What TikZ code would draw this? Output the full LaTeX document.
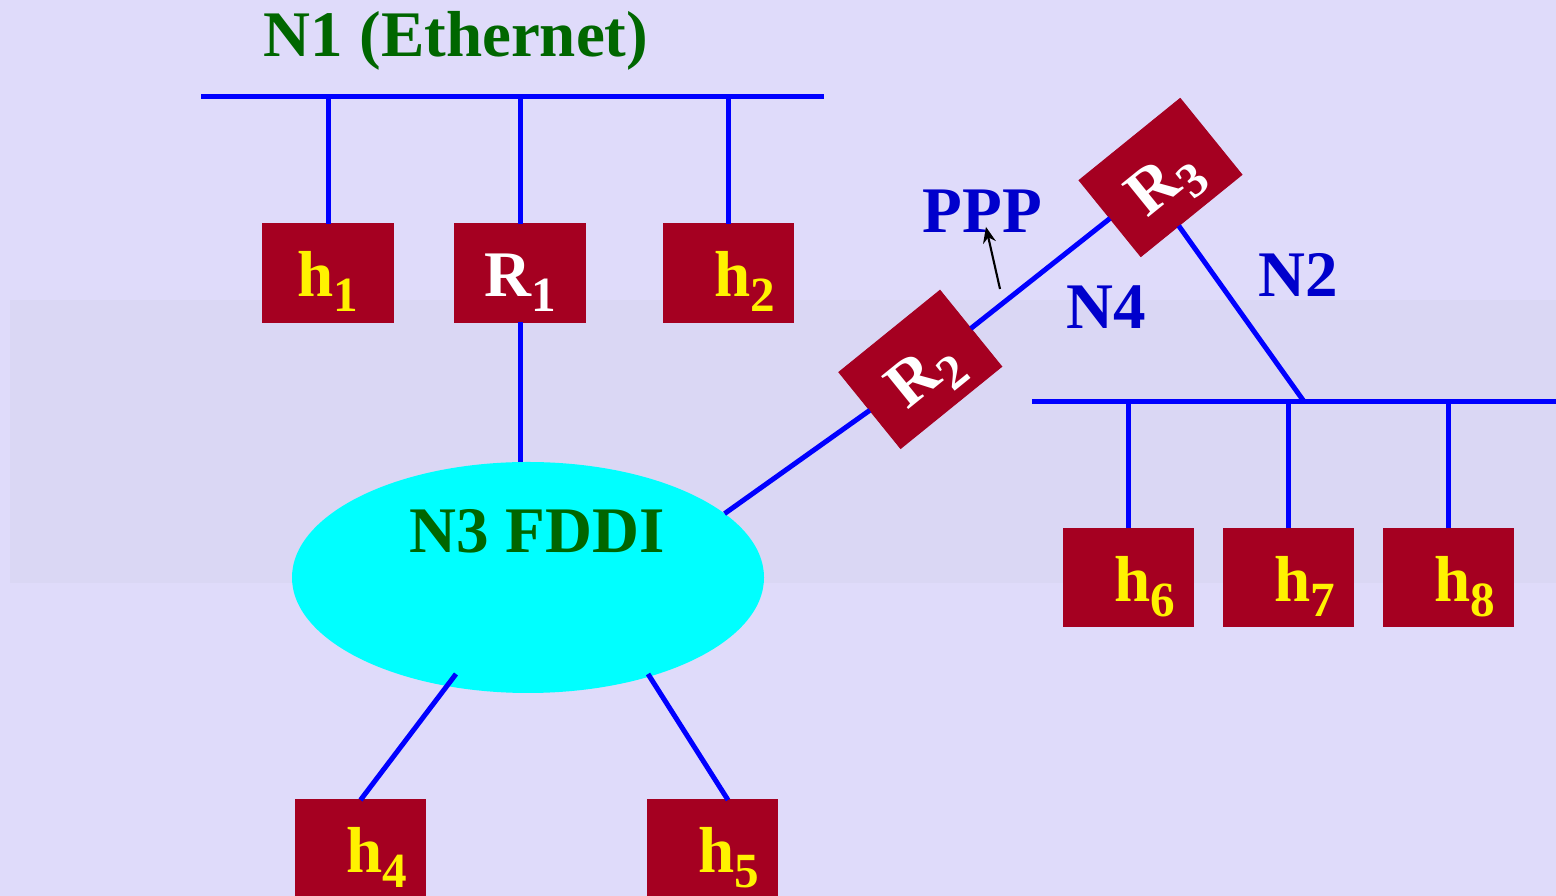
\documentclass[tikz,border=0pt]{standalone}
\usepackage{fontspec}
\setmainfont{Liberation Serif}
\usetikzlibrary{arrows.meta, calc, shapes.geometric}
\definecolor{slidebg}{RGB}{223,219,250}
\definecolor{slideband}{RGB}{218,215,244}
\definecolor{boxred}{RGB}{165,0,33}
\definecolor{netgreen}{RGB}{0,102,0}
\definecolor{netblue}{RGB}{0,0,204}
\definecolor{ringcyan}{RGB}{0,255,255}
\newcommand\lowidx[1]{\raisebox{-0.15cm}{\fontsize{14}{14}\selectfont #1}}

\begin{document}
\begin{tikzpicture}[
  bigfont/.style={font=\fontsize{18.5}{20}\selectfont\bfseries},
  hostbox/.style={rectangle, fill=boxred, draw=boxred, line width=0.3pt,
    minimum width=1.3cm, minimum height=0.98cm, inner sep=0, outer sep=0,
    text height=0.6cm, text depth=0.12cm, bigfont, text=yellow},
  router/.style={hostbox, text=white},
  wire/.style={blue, line width=0.05cm},
  netlbl/.style={bigfont, anchor=base, inner sep=0},
  ppparr/.style={-{Stealth[length=1.6mm, width=1.3mm]}, line width=0.6pt, shorten >=-0.07cm}
]
  \useasboundingbox (0,0) rectangle (15.56,-8.96);
  \fill[slidebg] (0,0) rectangle (15.56,-8.96);
  \fill[slideband] (0.10,-3.00) rectangle (15.56,-5.83);

  % N1 Ethernet
  \node[netlbl, text=netgreen] (n1lbl) at (4.56,-0.57) {N1 (Ethernet)};
  \coordinate (n1l) at (2.01,-0.97);
  \coordinate (n1r) at (8.24,-0.97);
  \draw[wire] (n1l) -- (n1r);
  \node[hostbox] (h1) at (3.28,-2.73) {h\lowidx{1}};
  \node[router]  (R1) at (5.20,-2.73) {R\lowidx{1}};
  \node[hostbox] (h2) at (7.285,-2.73) {\hspace*{0.32cm}h\lowidx{2}};
  \foreach \n in {h1,R1,h2}
    \draw[wire] (\n.north) -- (\n |- n1l);

  % N3 FDDI
  \node[ellipse, fill=ringcyan, minimum width=4.72cm, minimum height=2.31cm,
        inner sep=0, outer sep=0] (fddi) at (5.28,-5.775) {};
  \node[netlbl, text=netgreen] (fddilbl) at (5.37,-5.53) {N3 FDDI};
  \draw[wire] (R1.south) -- (R1 |- fddi.north);
  \node[hostbox] (h4) at (3.605,-8.49) {\hspace*{0.32cm}h\lowidx{4}};
  \node[hostbox] (h5) at (7.125,-8.49) {\hspace*{0.32cm}h\lowidx{5}};
  \coordinate (f4) at (4.56,-6.74);
  \coordinate (f5) at (6.48,-6.74);
  \draw[wire] (f4) -- (h4.north);
  \draw[wire] (f5) -- ([xshift=0.155cm]h5.north);

  % routers R2, R3 and the PPP link
  \node[router, rotate=39] (R2) at (9.203,-3.694) {R\lowidx{2}};
  \node[router, rotate=39] (R3) at (11.605,-1.775) {R\lowidx{3}};
  \draw[wire] (fddi.18) -- (R2.west);
  \draw[wire] (R2.east) -- (R3.west);
  \node[netlbl, text=netblue] (ppp) at (9.825,-2.33) {PPP};
  \coordinate (pppfoot) at (10.00,-2.89);
  \draw[ppparr] (pppfoot) -- (ppp);
  \node[netlbl, text=netblue] (n4lbl) at (11.065,-3.29) {N4};

  % N2
  \node[netlbl, text=netblue] (n2lbl) at (12.985,-2.97) {N2};
  \coordinate (n2l) at (10.32,-4.015);
  \coordinate (n2r) at (15.56,-4.015);
  \coordinate (n2tap) at (13.04,-4.015);
  \draw[wire] (n2l) -- (n2r);
  \coordinate (r3foot) at ($(R3.south)!0.25!(R3.south west)$);
  \draw[wire] (r3foot) -- (n2tap);
  \node[hostbox] (h6) at (11.285,-5.775) {\hspace*{0.32cm}h\lowidx{6}};
  \node[hostbox] (h7) at (12.885,-5.775) {\hspace*{0.32cm}h\lowidx{7}};
  \node[hostbox] (h8) at (14.485,-5.775) {\hspace*{0.32cm}h\lowidx{8}};
  \foreach \n in {h6,h7,h8}
    \draw[wire] (\n.north) -- (\n |- n2l);
\end{tikzpicture}
\end{document}
